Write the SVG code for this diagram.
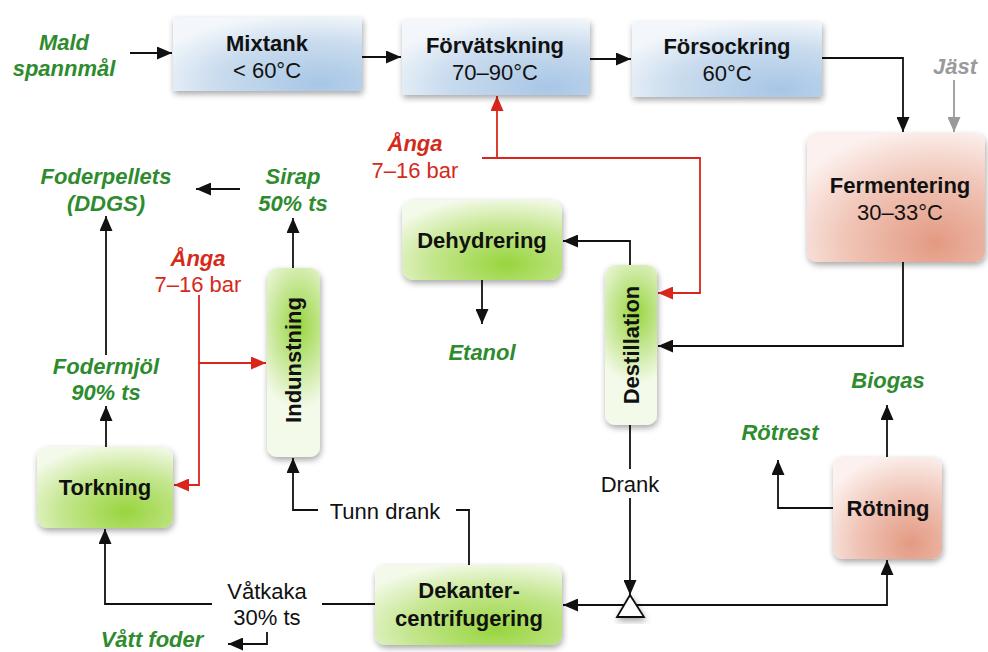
<svg xmlns="http://www.w3.org/2000/svg" width="988" height="652" viewBox="0 0 988 652">
<defs>
<style>
.t{font-family:"Liberation Sans",Arial,sans-serif;font-size:22px;text-anchor:middle;fill:#111}
.b{font-weight:bold}
.g{font-weight:bold;font-style:italic;fill:#2e8b2e}
.r{fill:#d42a1a}
.ri{font-weight:bold;font-style:italic;fill:#d42a1a}
.gr{font-weight:bold;font-style:italic;fill:#9a9a9a}
.c{fill:none;stroke:#111;stroke-width:1.8}
.cr{fill:none;stroke:#d9261c;stroke-width:1.8}
.cg{fill:none;stroke:#9a9a9a;stroke-width:1.8}
</style>
<marker id="ab" markerUnits="userSpaceOnUse" markerWidth="15" markerHeight="13" refX="15" refY="6.5" orient="auto"><path d="M0,0 L15,6.5 L0,13 z" fill="#111"/></marker>
<marker id="ar" markerUnits="userSpaceOnUse" markerWidth="15" markerHeight="13" refX="15" refY="6.5" orient="auto"><path d="M0,0 L15,6.5 L0,13 z" fill="#d9261c"/></marker>
<marker id="ag" markerUnits="userSpaceOnUse" markerWidth="15" markerHeight="13" refX="15" refY="6.5" orient="auto"><path d="M0,0 L15,6.5 L0,13 z" fill="#9a9a9a"/></marker>
<radialGradient id="blue" cx="0.75" cy="0.85" r="0.9" fx="0.78" fy="0.9"><stop offset="0" stop-color="#a7c6e6"/><stop offset="0.6" stop-color="#cadcee"/><stop offset="1" stop-color="#f3f7fb"/></radialGradient>
<radialGradient id="green" cx="0.65" cy="0.8" r="0.85"><stop offset="0" stop-color="#98d53e"/><stop offset="0.55" stop-color="#c4e68e"/><stop offset="1" stop-color="#f4faea"/></radialGradient>
<radialGradient id="greenv" cx="0.6" cy="0.3" r="0.9" gradientTransform="translate(0.5 0.3) scale(1 0.5) translate(-0.5 -0.3)"><stop offset="0" stop-color="#98d53e"/><stop offset="0.5" stop-color="#c6e795"/><stop offset="1" stop-color="#f4faea"/></radialGradient>
<radialGradient id="red" cx="0.72" cy="0.85" r="0.9"><stop offset="0" stop-color="#e39a82"/><stop offset="0.55" stop-color="#f0c4b6"/><stop offset="1" stop-color="#fcf1ee"/></radialGradient>
<filter id="sh" x="-20%" y="-20%" width="150%" height="150%"><feDropShadow dx="1" dy="3" stdDeviation="3" flood-color="#000" flood-opacity="0.35"/></filter>
</defs>
<rect width="988" height="652" fill="#fff"/>

<g id="connectors">
<path class="c" d="M130,53 H172" marker-end="url(#ab)"/>
<path class="c" d="M362,57 H401" marker-end="url(#ab)"/>
<path class="c" d="M590,59 H631" marker-end="url(#ab)"/>
<path class="c" d="M822,58 H903 V132" marker-end="url(#ab)"/>
<path class="cg" d="M954,80 V132" marker-end="url(#ag)"/>
<path class="c" d="M903,262 V346 H658" marker-end="url(#ab)"/>
<path class="cr" d="M482,158 H700 V293 H658" marker-end="url(#ar)"/>
<path class="cr" d="M497,158 V96" marker-end="url(#ar)"/>
<path class="c" d="M630,265 V241 H563" marker-end="url(#ab)"/>
<path class="c" d="M482,280 V324" marker-end="url(#ab)"/>
<path class="c" d="M630,425 V469"/>
<path class="c" d="M630,498 V595" marker-end="url(#ab)"/>
<path class="c" d="M630,605 H563" marker-end="url(#ab)"/>
<path class="c" d="M630,605 H887 V560" marker-end="url(#ab)"/>
<path class="c" d="M887,457 V405" marker-end="url(#ab)"/>
<path class="c" d="M833,508 H778 V460" marker-end="url(#ab)"/>
<path class="c" d="M469,565 V510 H456"/>
<path class="c" d="M318,510 H293 V458" marker-end="url(#ab)"/>
<path class="c" d="M375,604 H322"/>
<path class="c" d="M212,604 H105 V529" marker-end="url(#ab)"/>
<path class="c" d="M267,632 V644 H228" marker-end="url(#ab)"/>
<path class="c" d="M106,447 V406" marker-end="url(#ab)"/>
<path class="c" d="M106,355 V216" marker-end="url(#ab)"/>
<path class="c" d="M293,268 V218" marker-end="url(#ab)"/>
<path class="c" d="M240,189 H196" marker-end="url(#ab)"/>
<path class="cr" d="M199,295 V485 H174" marker-end="url(#ar)"/>
<path class="cr" d="M199,363 H266" marker-end="url(#ar)"/>
<path d="M630,595 L617,617 L644,617 z" fill="#fff" stroke="#111" stroke-width="1.8" filter="url(#sh)"/>
</g>

<g id="mixtank">
<rect x="173" y="17" width="189" height="74" rx="2" fill="url(#blue)" filter="url(#sh)"/>
<text class="t b" x="267" y="51">Mixtank</text>
<text class="t" x="267" y="78">&lt; 60°C</text>
</g>
<g id="forvatskning">
<rect x="402" y="20" width="188" height="75" rx="2" fill="url(#blue)" filter="url(#sh)"/>
<text class="t b" x="495" y="53">Förvätskning</text>
<text class="t" x="495" y="80">70–90°C</text>
</g>
<g id="forsockring">
<rect x="632" y="22" width="190" height="75" rx="2" fill="url(#blue)" filter="url(#sh)"/>
<text class="t b" x="727" y="54">Försockring</text>
<text class="t" x="727" y="81">60°C</text>
</g>
<g id="fermentering">
<rect x="807" y="133" width="178" height="129" rx="10" fill="url(#red)" filter="url(#sh)"/>
<text class="t b" x="900" y="193">Fermentering</text>
<text class="t" x="900" y="220">30–33°C</text>
</g>
<g id="dehydrering">
<rect x="402" y="200" width="160" height="80" rx="12" fill="url(#green)" filter="url(#sh)"/>
<text class="t b" x="482" y="248">Dehydrering</text>
</g>
<g id="destillation">
<rect x="605" y="265" width="52" height="160" rx="10" fill="url(#greenv)" filter="url(#sh)"/>
<text class="t b" transform="translate(639,345) rotate(-90)" x="0" y="0">Destillation</text>
</g>
<g id="indunstning">
<rect x="267" y="268" width="53" height="189" rx="10" fill="url(#greenv)" filter="url(#sh)"/>
<text class="t b" transform="translate(301,360) rotate(-90)" x="0" y="0">Indunstning</text>
</g>
<g id="torkning">
<rect x="37" y="447" width="136" height="81" rx="10" fill="url(#green)" filter="url(#sh)"/>
<text class="t b" x="105" y="495">Torkning</text>
</g>
<g id="dekanter">
<rect x="375" y="565" width="187" height="80" rx="10" fill="url(#green)" filter="url(#sh)"/>
<text class="t b" x="469" y="598">Dekanter-</text>
<text class="t b" x="469" y="626">centrifugering</text>
</g>
<g id="rotning">
<rect x="833" y="457" width="109" height="102" rx="10" fill="url(#red)" filter="url(#sh)"/>
<text class="t b" x="888" y="516">Rötning</text>
</g>

<g id="labels">
<text class="t g" x="64" y="50">Mald</text>
<text class="t g" x="64" y="76">spannmål</text>
<text class="t gr" x="955" y="74">Jäst</text>
<text class="t ri" x="415" y="151">Ånga</text>
<text class="t r" x="415" y="178">7–16 bar</text>
<text class="t g" x="106" y="184">Foderpellets</text>
<text class="t g" x="106" y="211">(DDGS)</text>
<text class="t g" x="293" y="184">Sirap</text>
<text class="t g" x="293" y="211">50% ts</text>
<text class="t ri" x="198" y="266">Ånga</text>
<text class="t r" x="198" y="292">7–16 bar</text>
<text class="t g" x="482" y="360">Etanol</text>
<text class="t g" x="106" y="374">Fodermjöl</text>
<text class="t g" x="106" y="400">90% ts</text>
<text class="t g" x="888" y="388">Biogas</text>
<text class="t g" x="780" y="440">Rötrest</text>
<text class="t" x="630" y="492">Drank</text>
<text class="t" x="385" y="519">Tunn drank</text>
<text class="t" x="267" y="599">Våtkaka</text>
<text class="t" x="267" y="625">30% ts</text>
<text class="t g" x="152" y="647">Vått foder</text>
</g>
</svg>
